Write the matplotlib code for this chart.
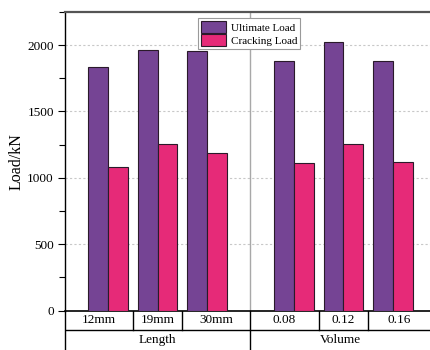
import matplotlib
matplotlib.use("Agg")
import matplotlib.pyplot as plt
from matplotlib.ticker import MultipleLocator

plt.rcParams["font.family"] = ["Liberation Serif", "DejaVu Serif"]
plt.rcParams["font.size"] = 9

# ─── Data ──────────────────────────────────────────────────────────────────
categories = ["12mm", "19mm", "30mm", "0.08", "0.12", "0.16"]
groups = ["Length", "Volume"]
ultimate_load = [1836, 1965, 1955, 1882, 2023, 1882]
cracking_load = [1079, 1254, 1184, 1113, 1254, 1121]

ULT_COLOR = "#754494"
CRACK_COLOR = "#E62A78"
EDGE = "#2A1A2A"

# group centres: three per factor, with a wider gap between factors
x_pos = [1, 2, 3, 4.75, 5.75, 6.75]
x_sep = 3.875
x_lo, x_hi = 0.13, 7.5
w = 0.4

fig = plt.figure(figsize=(4.3, 3.5), dpi=100)
ax = fig.add_axes([65 / 430, 1 - 310.5 / 350, 1 - 65 / 430, (310.5 - 12) / 350])

ax.bar([x - w / 2 for x in x_pos], ultimate_load, width=w, color=ULT_COLOR,
       edgecolor=EDGE, linewidth=0.8, label="Ultimate Load", zorder=3)
ax.bar([x + w / 2 for x in x_pos], cracking_load, width=w, color=CRACK_COLOR,
       edgecolor=EDGE, linewidth=0.8, label="Cracking Load", zorder=3)

ax.axvline(x_sep, color="#A8A8A8", linewidth=1.0, zorder=1)

ax.set_xlim(x_lo, x_hi)
ax.set_ylim(0, 2250)
ax.yaxis.set_major_locator(MultipleLocator(500))
ax.yaxis.set_minor_locator(MultipleLocator(250))
ax.set_xticks([])
ax.tick_params(axis="y", which="major", direction="out", length=5, width=0.8,
               labelsize=9.5, pad=3)
ax.tick_params(axis="y", which="minor", direction="out", length=4, width=0.8)
ax.grid(axis="y", which="major", linestyle=(0, (2, 2)), color="#C8C8C8",
        linewidth=0.8, zorder=0)
ax.set_axisbelow(True)

ax.spines["right"].set_visible(False)
ax.spines["top"].set_color("#555555")
ax.spines["top"].set_linewidth(1.6)
ax.spines["left"].set_linewidth(1.0)
ax.spines["bottom"].set_linewidth(1.2)

ax.set_ylabel("Load/kN", fontsize=11.5, labelpad=2)

leg = ax.legend(loc="upper left", bbox_to_anchor=((198 - 65) / 365, (310.5 - 18) / 298.5),
                fontsize=8, frameon=True, fancybox=False, edgecolor="#9A9A9A",
                framealpha=1, handlelength=2.3, handleheight=1.3,
                handletextpad=0.4, borderpad=0.25, labelspacing=0.1,
                borderaxespad=0)
leg.get_frame().set_linewidth(0.8)

# ─── Category table under the axis ─────────────────────────────────────────
tab = fig.add_axes([65 / 430, 0, 1 - 65 / 430, 39.5 / 350])
tab.set_xlim(x_lo, x_hi)
tab.set_ylim(0, 2)
tab.set_xticks([])
tab.set_yticks([])
for side in ["top", "right", "bottom"]:
    tab.spines[side].set_visible(False)
tab.spines["left"].set_linewidth(1.0)
tab.patch.set_alpha(0)

tab.axhline(1, color="black", linewidth=1.0)
tab.plot([x_sep, x_sep], [0, 2], color="black", linewidth=1.0)
bounds = [x_lo, 1.5, 2.5, x_sep, 5.25, 6.25, x_hi]
for b in bounds[1:-1]:
    if b != x_sep:
        tab.plot([b, b], [1, 2], color="black", linewidth=1.0)
for i, cat in enumerate(categories):
    tab.text((bounds[i] + bounds[i + 1]) / 2, 1.5, cat, ha="center",
             va="center", fontsize=9.5)
tab.text((x_lo + x_sep) / 2, 0.5, groups[0], ha="center", va="center", fontsize=9.5)
tab.text((x_sep + x_hi) / 2, 0.5, groups[1], ha="center", va="center", fontsize=9.5)

fig.savefig("out.png", dpi=100)
